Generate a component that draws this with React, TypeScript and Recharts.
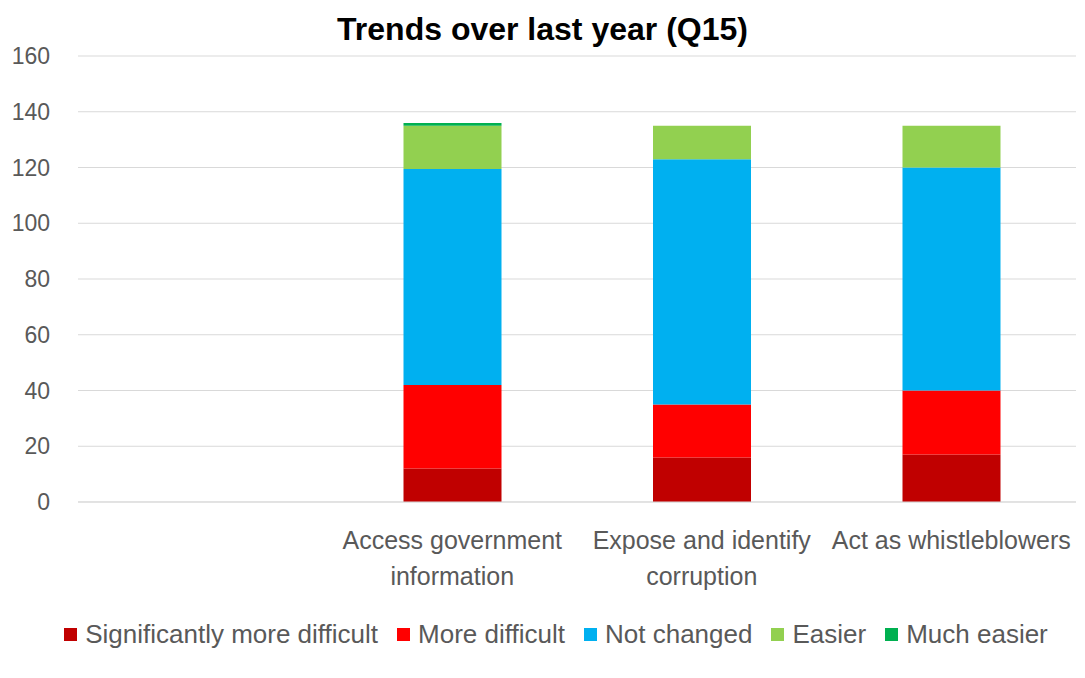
import { BarChart, Bar, XAxis, YAxis, CartesianGrid, Legend } from 'recharts'

const categories = ['', 'Access government information', 'Expose and identify corruption', 'Act as whistleblowers']
const sigMoreDifficult = [null, 12, 16, 17]
const moreDifficult = [null, 30, 19, 23]
const notChanged = [null, 77.5, 88, 80]
const easier = [null, 15.5, 12, 15]
const muchEasier = [null, 1, 0, 0]
const yTicks = [0, 20, 40, 60, 80, 100, 120, 140, 160]

const series = [
  { key: 'sig', name: 'Significantly more difficult', color: '#C00000' },
  { key: 'more', name: 'More difficult', color: '#FF0000' },
  { key: 'same', name: 'Not changed', color: '#00B0F0' },
  { key: 'easier', name: 'Easier', color: '#92D050' },
  { key: 'much', name: 'Much easier', color: '#00B050' },
]

const data = categories.map((c, i) => ({
  name: c,
  sig: sigMoreDifficult[i],
  more: moreDifficult[i],
  same: notChanged[i],
  easier: easier[i],
  much: muchEasier[i],
}))

const FONT = '"Liberation Sans", Arial, sans-serif'

// crude word wrap by character count, good enough for these labels
function wrap(label: string, maxChars: number) {
  const lines: string[] = []
  let cur = ''
  for (const w of label.split(' ')) {
    const next = cur ? cur + ' ' + w : w
    if (next.length > maxChars && cur) {
      lines.push(cur)
      cur = w
    } else {
      cur = next
    }
  }
  if (cur) lines.push(cur)
  return lines
}

function CategoryTick(props: any) {
  const { x, y, payload } = props
  const lines = wrap(payload.value, 21)
  return (
    <text x={x} y={y} textAnchor="middle" fill="#595959" fontSize={25} fontFamily={FONT}>
      {lines.map((l, i) => (
        <tspan key={i} x={x} dy={i === 0 ? '0.8em' : 36}>
          {l}
        </tspan>
      ))}
    </text>
  )
}

function LegendContent() {
  return (
    <div
      style={{
        display: 'flex',
        justifyContent: 'center',
        gap: 19,
        paddingLeft: 36,
        fontFamily: FONT,
        fontSize: 26,
        color: '#595959',
        lineHeight: '30px',
      }}
    >
      {series.map((s) => (
        <span key={s.key} style={{ display: 'flex', alignItems: 'center' }}>
          <span style={{ width: 13, height: 13, background: s.color, marginRight: 8, display: 'inline-block' }} />
          {s.name}
        </span>
      ))}
    </div>
  )
}

export default function App() {
  return (
    <div style={{ position: 'absolute', left: 0, top: 0, width: 1085, height: 678, background: '#fff' }}>
      <div
        style={{
          position: 'absolute',
          top: 11,
          left: 0,
          width: 1085,
          textAlign: 'center',
          fontFamily: FONT,
          fontWeight: 'bold',
          fontSize: 32,
          color: '#000',
        }}
      >
        Trends over last year (Q15)
      </div>
      <BarChart
        width={1085}
        height={678}
        data={data}
        margin={{ top: 56, right: 9, left: 0, bottom: 29 }}
        barSize={98}
      >
        <CartesianGrid vertical={false} stroke="#d9d9d9" />
        <XAxis
          dataKey="name"
          tick={<CategoryTick />}
          tickLine={false}
          axisLine={{ stroke: '#d9d9d9' }}
          interval={0}
          height={117}
          tickMargin={21}
        />
        <YAxis
          domain={[0, 160]}
          ticks={yTicks}
          width={78}
          axisLine={false}
          tickLine={false}
          tickMargin={22}
          tick={{ fill: '#595959', fontSize: 23, fontFamily: FONT }}
        />
        <Legend verticalAlign="bottom" content={<LegendContent />} />
        {series.map((s) => (
          <Bar key={s.key} dataKey={s.key} name={s.name} stackId="a" fill={s.color} isAnimationActive={false} />
        ))}
      </BarChart>
    </div>
  )
}
